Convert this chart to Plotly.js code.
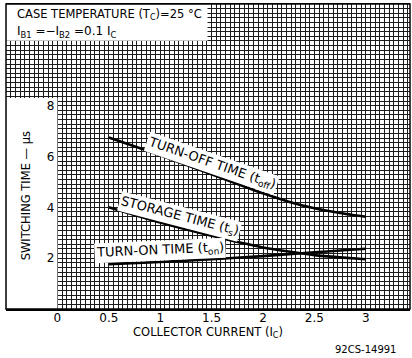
<!DOCTYPE html>
<html>
<head>
<meta charset="utf-8">
<script src="https://cdn.plot.ly/plotly-3.0.1.min.js"></script>
<style>html,body{margin:0;padding:0;background:#fff}#chart{width:412px;height:358px}</style>
</head>
<body>
<div id="chart"></div>
<script>
// Collector current (A)
const collectorCurrent = [0.5, 1.0, 1.5, 2.0, 2.25, 2.5, 2.75, 3.0];
// Switching times (µs)
const turnOffTime  = [6.75, 6.05, 5.3, 4.55, 4.22, 3.96, 3.78, 3.63];
const storageTime  = [4.0, 3.4, 2.88, 2.42, 2.26, 2.12, 2.03, 1.96];
const turnOnTime   = [1.76, 1.85, 1.96, 2.08, 2.16, 2.23, 2.3, 2.37];

const xTickVals = [0, 0.5, 1, 1.5, 2, 2.5, 3];
const xTickText = ['0', '0.5', '1', '1.5', '2', '2.5', '3'];
const yTickVals = [2, 4, 6, 8];
const yTickText = ['2', '4', '6', '8'];

const curveLabels = [
  {text: 'TURN-OFF TIME (t<sub>off</sub>)', x: 1.5, y: 5.74, angle: 19},
  {text: 'STORAGE TIME (t<sub>s</sub>)', x: 1.19, y: 3.62, angle: 14.5},
  {text: 'TURN-ON TIME (t<sub>on</sub>)', x: 1.0, y: 2.3, angle: -2.5}
];

const FONT = 'DejaVu Sans, Verdana, sans-serif';
const lineStyle = {color: '#000', width: 2.6, shape: 'spline', smoothing: 0.6};

const traces = [
  {x: collectorCurrent, y: turnOffTime},
  {x: collectorCurrent, y: storageTime},
  {x: collectorCurrent, y: turnOnTime}
].map(t => Object.assign({}, t, {mode: 'lines', line: lineStyle, hoverinfo: 'skip', showlegend: false}));

const GRID = '#1c1c1c';
const xMin = -0.5, xMax = 3.43;

const layout = {
  width: 412, height: 358,
  margin: {l: 6, r: 2, t: 4, b: 49},
  paper_bgcolor: '#fff', plot_bgcolor: '#fff',
  font: {family: FONT, color: '#000', size: 12},
  showlegend: false,
  xaxis: {
    range: [xMin, xMax],
    tickmode: 'array', tickvals: xTickVals, ticktext: xTickText,
    showgrid: true, gridcolor: GRID, gridwidth: 1,
    minor: {tickmode: 'linear', tick0: 0, dtick: 0.5 / 11, showgrid: true, gridcolor: GRID, gridwidth: 1, ticks: ''},
    zeroline: false, showline: true, mirror: true, linecolor: '#000', linewidth: 1.5,
    ticks: '', ticklabelstandoff: -3, tickfont: {size: 12, family: FONT},
    title: {text: 'COLLECTOR CURRENT (I<sub>C</sub>)', font: {size: 11.5, family: FONT}, standoff: 1},
    fixedrange: true
  },
  yaxis: {
    range: [0, 12],
    anchor: 'free', position: (0 - xMin) / (xMax - xMin),
    tickmode: 'array', tickvals: yTickVals, ticktext: yTickText,
    showgrid: true, gridcolor: GRID, gridwidth: 1,
    minor: {tickmode: 'linear', tick0: 0, dtick: 2 / 11, showgrid: true, gridcolor: GRID, gridwidth: 1, ticks: ''},
    zeroline: false, showline: false,
    ticks: '', ticklabelstandoff: 3, tickfont: {size: 12, family: FONT},
    fixedrange: true
  },
  shapes: [
    // white panel behind the y-axis labels
    {type: 'rect', xref: 'x', yref: 'y', x0: xMin, x1: 0, y0: 0, y1: 8.3, fillcolor: '#fff', line: {width: 0}, layer: 'between'},
    // white box for the conditions text
    {type: 'rect', xref: 'x', yref: 'y', x0: xMin, x1: 1.46, y0: 10.55, y1: 12, fillcolor: '#fff', line: {width: 0}, layer: 'between'},
    // outer frame
    {type: 'rect', xref: 'paper', yref: 'paper', x0: 0, x1: 1, y0: 0, y1: 1, line: {color: '#000', width: 1.5}, layer: 'above'}
  ],
  annotations: curveLabels.map(l => ({
    text: l.text, xref: 'x', yref: 'y', x: l.x, y: l.y, textangle: l.angle,
    showarrow: false, bgcolor: '#fff', borderpad: 1,
    font: {family: FONT, size: 13, color: '#000'}
  })).concat([
    {text: 'CASE TEMPERATURE (T<sub>C</sub>)=25 °C', xref: 'paper', yref: 'paper', x: 0.022, y: 0.967,
     xanchor: 'left', yanchor: 'middle', showarrow: false, font: {family: FONT, size: 11.5, color: '#000'}},
    {text: 'I<sub>B1</sub> =−I<sub>B2</sub> =0.1 I<sub>C</sub>', xref: 'paper', yref: 'paper', x: 0.022, y: 0.908,
     xanchor: 'left', yanchor: 'middle', showarrow: false, font: {family: FONT, size: 12, color: '#000'}},
    {text: 'SWITCHING TIME — µs', xref: 'paper', yref: 'paper', x: 0.05, y: 0.37, xanchor: 'center', yanchor: 'middle',
     textangle: -90, showarrow: false, font: {family: FONT, size: 11.5, color: '#000'}},
    {text: '92CS-14991', xref: 'paper', yref: 'paper', x: 0.97, y: -0.133, xanchor: 'right', yanchor: 'middle',
     showarrow: false, font: {family: FONT, size: 10, color: '#000'}}
  ])
};

Plotly.newPlot('chart', traces, layout, {staticPlot: true, displayModeBar: false});
</script>
</body>
</html>
